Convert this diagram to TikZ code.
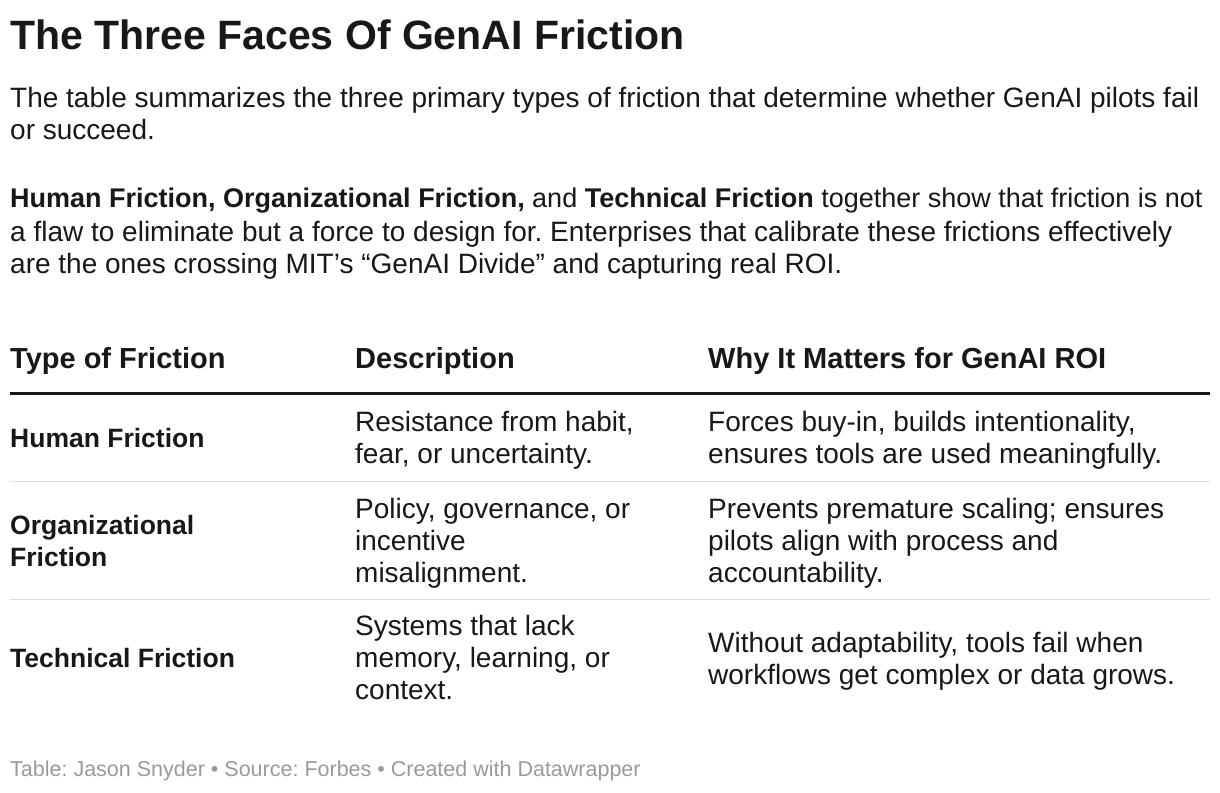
\documentclass[tikz,border=0pt]{standalone}
\usepackage{fontspec}
\setmainfont{Liberation Sans}
\frenchspacing
\definecolor{inkdark}{HTML}{181818}
\definecolor{rulegrey}{HTML}{DDDDDD}
\definecolor{footgrey}{HTML}{9A9A9A}
\tikzset{
  line/.style={anchor=base west, inner sep=0pt, text=inkdark, font=\fontsize{28}{32}\selectfont},
  headline/.style={line, font=\fontsize{29}{32}\bfseries\selectfont},
  rowlabel/.style={line, font=\fontsize{26.5}{32}\bfseries\selectfont},
}
\begin{document}
\begin{tikzpicture}[x=1pt,y=-1pt]
  \useasboundingbox[fill=white] (0,0) rectangle (1220,792);
  % title and intro
  \node[line, font=\fontsize{41}{44}\bfseries\selectfont] (title) at (10,50) {The Three Faces Of GenAI Friction};
  \foreach \t/\y [count=\k] in {
    {The table summarizes the three primary types of friction that determine whether GenAI pilots fail}/107,
    {or succeed.}/139,
    {\fontsize{27}{32}\selectfont\textbf{Human Friction, Organizational Friction,} and \textbf{Technical Friction} together show that friction is not}/207,
    {a flaw to eliminate but a force to design for. Enterprises that calibrate these frictions effectively}/241,
    {are the ones crossing MIT’s “GenAI Divide” and capturing real ROI.}/273
  } {\node[line] (intro\k) at (10,\y) {\t};}
  % header
  \node[headline] (hType) at (10,368) {Type of Friction};
  \node[headline] (hDesc) at (355,368) {Description};
  \node[headline] (hWhy) at (708,368) {Why It Matters for GenAI ROI};
  \draw[line width=3pt, inkdark] (10,393) -- (1210,393);
  \draw[line width=1pt, rulegrey] (10,481) -- (1210,481);
  \draw[line width=1pt, rulegrey] (10,599) -- (1210,599);
  % row 1
  \node[rowlabel] (r1a) at (10,447) {Human Friction};
  \node[line] (r1b1) at (355,431) {Resistance from habit,};
  \node[line] (r1b2) at (355,463) {fear, or uncertainty.};
  \node[line] (r1c1) at (708,431) {Forces buy-in, builds intentionality,};
  \node[line] (r1c2) at (708,463) {ensures tools are used meaningfully.};
  % row 2
  \node[rowlabel] (r2a1) at (10,534) {Organizational};
  \node[rowlabel] (r2a2) at (10,566) {Friction};
  \node[line] (r2b1) at (355,518) {Policy, governance, or};
  \node[line] (r2b2) at (355,550) {incentive};
  \node[line] (r2b3) at (355,582) {misalignment.};
  \node[line] (r2c1) at (708,518) {Prevents premature scaling; ensures};
  \node[line] (r2c2) at (708,550) {pilots align with process and};
  \node[line] (r2c3) at (708,582) {accountability.};
  % row 3
  \node[rowlabel] (r3a) at (10,667) {Technical Friction};
  \node[line] (r3b1) at (355,635) {Systems that lack};
  \node[line] (r3b2) at (355,667) {memory, learning, or};
  \node[line] (r3b3) at (355,699) {context.};
  \node[line] (r3c1) at (708,652) {Without adaptability, tools fail when};
  \node[line] (r3c2) at (708,684) {workflows get complex or data grows.};
  % footer
  \node[line, text=footgrey, font=\fontsize{21.5}{24}\selectfont] (foot) at (10,776) {Table: Jason Snyder • Source: Forbes • Created with Datawrapper};
\end{tikzpicture}
\end{document}
